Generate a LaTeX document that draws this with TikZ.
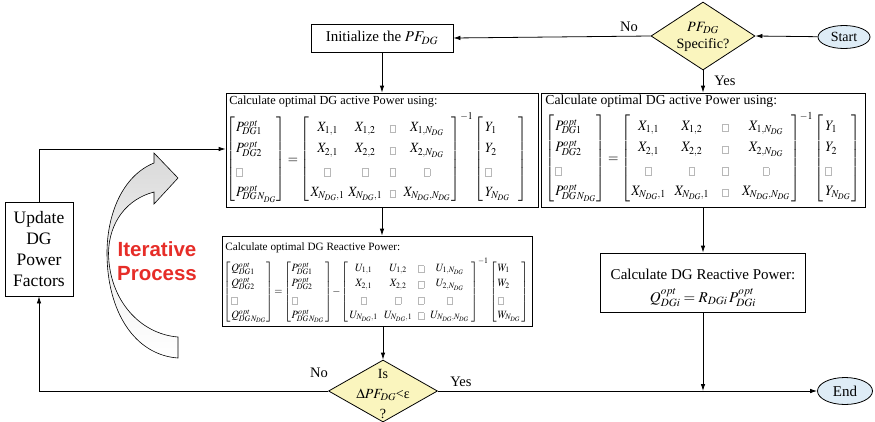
\documentclass[tikz,border=0pt]{standalone}
\usepackage{amsmath}
\usepackage{array}
\usepackage{graphicx}
\usepackage{mathptmx}
\usepackage{fontspec}
\setmainfont{Liberation Serif}
\newfontfamily\sansfam{Liberation Sans}
\usetikzlibrary{shapes.geometric,arrows.meta}
\definecolor{dfill}{RGB}{250,245,190}
\definecolor{efill}{RGB}{222,236,246}
\definecolor{itred}{RGB}{230,45,40}
\newcommand{\gsq}{\mbox{\color{black!28}\setlength{\fboxsep}{0.9pt}\setlength{\fboxrule}{0.7pt}\fbox{\rule{0pt}{4.5pt}\rule{3.6pt}{0pt}}}}
\newcommand{\fs}[1]{\fontsize{#1}{#1}\selectfont}
% entry with tight scripts: letter, superscript, subscript
\newcommand{\ts}[3]{#1^{\smash{#2}}_{\smash{#3}}}
% column vector: #1 left pad, #2 right pad, #3-#6 entries
\newcommand{\lcol}[6]{\left[\begin{array}{@{\hspace{#1}}l@{\hspace{#2}}}#3\\#4\\#5\\#6\end{array}\right]}
% 4x4 matrix: #1 outer pad, #2 column gap, #3 width of third column, #4-#7 rows
\newcommand{\mtx}[7]{\left[\begin{array}{@{\hspace{#1}}c@{\hspace{#2}}c@{\hspace{#2}}w{c}{#3}@{\hspace{#2}}c@{\hspace{#1}}}#4\\#5\\#6\\#7\end{array}\right]}
\begin{document}
\begin{tikzpicture}[x=1pt,y=-1pt,line width=0.8pt,
  >={Latex[length=7pt,width=4.5pt]},
  proc/.style={draw,rectangle,inner sep=0pt},
  dec/.style={draw,diamond,fill=dfill,inner sep=0pt},
  term/.style={draw,ellipse,fill=efill,inner sep=0pt},
  lbl/.style={font=\fs{14.5}}]
\useasboundingbox (0,0) rectangle (875,421);
% terminals and decisions
\node[term,minimum width=52,minimum height=23] (start) at (844,37) {\fs{14}Start};
\node[dec,minimum width=104,minimum height=68] (d1) at (703,36) {};
\node[align=center,font=\fs{14.2},inner sep=0pt] (d1t) at (703,37) {$PF_{DG}$\\[3pt]Specific?};
\node[proc,minimum width=142,minimum height=28] (init) at (382,38) {\fs{15}Initialize the $PF_{DG}$};
% box 1
\node[proc,minimum width=312,minimum height=114] (b1) at (382,150) {};
\node[anchor=north west,inner sep=0pt,font=\fs{12.3}] (b1t) at (229,96) {Calculate optimal DG active Power using:};
\node[anchor=west,inner sep=0pt,font=\fontsize{13.5}{16}\selectfont] (b1e) at (226,158) {\resizebox*{301pt}{90pt}{\renewcommand{\arraystretch}{1.3}$\displaystyle
\lcol{1pt}{0pt}{\ts{P}{opt}{DG1}}{\ts{P}{opt}{DG2}}{\gsq}{\ts{P}{opt}{DG\,N_{DG}}}
=\mtx{1pt}{4pt}{14pt}{X_{1,1} & X_{1,2} & \gsq & X_{1,N_{DG}}}{X_{2,1} & X_{2,2} & \gsq & X_{2,N_{DG}}}{\gsq & \gsq & \gsq & \gsq}{X_{N_{DG},1} & X_{N_{DG},1} & \gsq & X_{N_{DG},N_{DG}}}^{-1}
\lcol{2pt}{9pt}{Y_1}{Y_2}{\gsq}{Y_{N_{DG}}}$}};
% box 2
\node[proc,minimum width=324,minimum height=114] (b2) at (703,150) {};
\node[anchor=north west,inner sep=0pt,font=\fs{13.7}] (b2t) at (545,95) {Calculate optimal DG active Power using:};
\node[anchor=west,inner sep=0pt,font=\fontsize{13.8}{16}\selectfont] (b2e) at (545,157) {\resizebox*{315pt}{90pt}{\renewcommand{\arraystretch}{1.3}$\displaystyle
\lcol{1pt}{0pt}{\ts{P}{opt}{DG1}}{\ts{P}{opt}{DG2}}{\gsq}{\ts{P}{opt}{DG\,N_{DG}}}
=\mtx{1pt}{9pt}{16pt}{X_{1,1} & X_{1,2} & \gsq & X_{1,N_{DG}}}{X_{2,1} & X_{2,2} & \gsq & X_{2,N_{DG}}}{\gsq & \gsq & \gsq & \gsq}{X_{N_{DG},1} & X_{N_{DG},1} & \gsq & X_{N_{DG},N_{DG}}}^{-1}
\lcol{2pt}{1pt}{Y_1}{Y_2}{\gsq}{Y_{N_{DG}}}$}};
% box 3
\node[proc,minimum width=310,minimum height=90] (b3) at (377,281) {};
\node[anchor=north west,inner sep=0pt,font=\fs{11.2}] (b3t) at (225,242) {Calculate optimal DG Reactive Power:};
\node[anchor=west,inner sep=0pt,font=\fontsize{11.5}{13.5}\selectfont] (b3e) at (223,290.5) {\resizebox*{305pt}{65pt}{\renewcommand{\arraystretch}{1.2}$\displaystyle
\lcol{1pt}{0pt}{\ts{Q}{opt}{DG1}}{\ts{Q}{opt}{DG2}}{\gsq}{\ts{Q}{opt}{DG\,N_{DG}}}
\!=\!\lcol{1pt}{1pt}{\ts{P}{opt}{DG1}}{\ts{P}{opt}{DG2}}{\gsq}{\ts{P}{opt}{DG\,N_{DG}}}
\!-\!\mtx{2pt}{7pt}{6pt}{U_{1,1} & U_{1,2} & \gsq & U_{1,N_{DG}}}{X_{2,1} & X_{2,2} & \gsq & U_{2,N_{DG}}}{\gsq & \gsq & \gsq & \gsq}{U_{N_{DG},1} & U_{N_{DG},1} & \gsq & U_{N_{DG},N_{DG}}}^{-1}
\lcol{1pt}{1pt}{W_1}{W_2}{\gsq}{W_{N_{DG}}}$}};
% box 4
\node[proc,minimum width=205,minimum height=59] (b4) at (703,282.5) {};
\node[inner sep=0pt,font=\fs{15}] (b4t) at (703,274) {Calculate DG Reactive Power:};
\node[inner sep=0pt,font=\fs{15}] (b4e) at (703,298) {$Q^{opt}_{DGi}=R_{DGi}\,P^{opt}_{DGi}$};
% decision 2 and end
\node[dec,minimum width=109,minimum height=62] (d2) at (383,391) {};
\node[align=center,font=\fs{14},inner sep=0pt] (d2t) at (383,394) {Is\\[6pt]$\Delta PF_{DG}$<ε\\[6pt]?};
\node[term,minimum width=55,minimum height=27] (end) at (845,391) {\fs{15}End};
% update box
\node[proc,minimum width=68,minimum height=94,align=center,font=\fontsize{17.5}{21}\selectfont] (upd) at (39,249) {Update\\DG\\Power\\Factors};
% iterative arrow
\draw[line width=0.6pt,top color=black!15,bottom color=white,middle color=black!6]
  (154,163) .. controls (122,176) and (107,215) .. (107,253)
  .. controls (107,312) and (135,355) .. (178,358) -- (178,337)
  .. controls (140,334) and (109,300) .. (108.5,253)
  .. controls (109,222) and (127,199) .. (154,192) -- (154,204) -- (178,178) -- (154,153) -- cycle;
\node[font=\sansfam\bfseries\fs{20.5},text=itred,align=center,inner sep=0pt] (itp) at (157,261) {Iterative\\[4pt]Process};
% connectors
\draw[->] (start) -- (d1.east);
\draw[->] (d1.west) -- (init.east);
\draw[->] (d1.south) -- (b2.north);
\draw[->] (init.south) -- (init.south |- b1.north);
\draw[->] (b1.south) -- (b1.south |- b3.north);
\draw[->] (b2.south) -- (b4.north);
\draw[->] (b3.south -| d2.north) -- (d2.north);
\draw[->] (d2.east) -- (end.west);
\coordinate (j) at (b4.south |- end.west);
\draw[->] (b4.south) -- (j);
\draw[->] (d2.west) -| (upd.south);
\draw[->] (upd.north) -- (39,149) -- (b1.west |- 0,149);
% labels
\node[lbl] (no1) at (629,27) {No};
\node[lbl] (yes1) at (725,81) {Yes};
\node[lbl] (no2) at (319,373) {No};
\node[lbl] (yes2) at (461,382) {Yes};
\end{tikzpicture}
\end{document}
